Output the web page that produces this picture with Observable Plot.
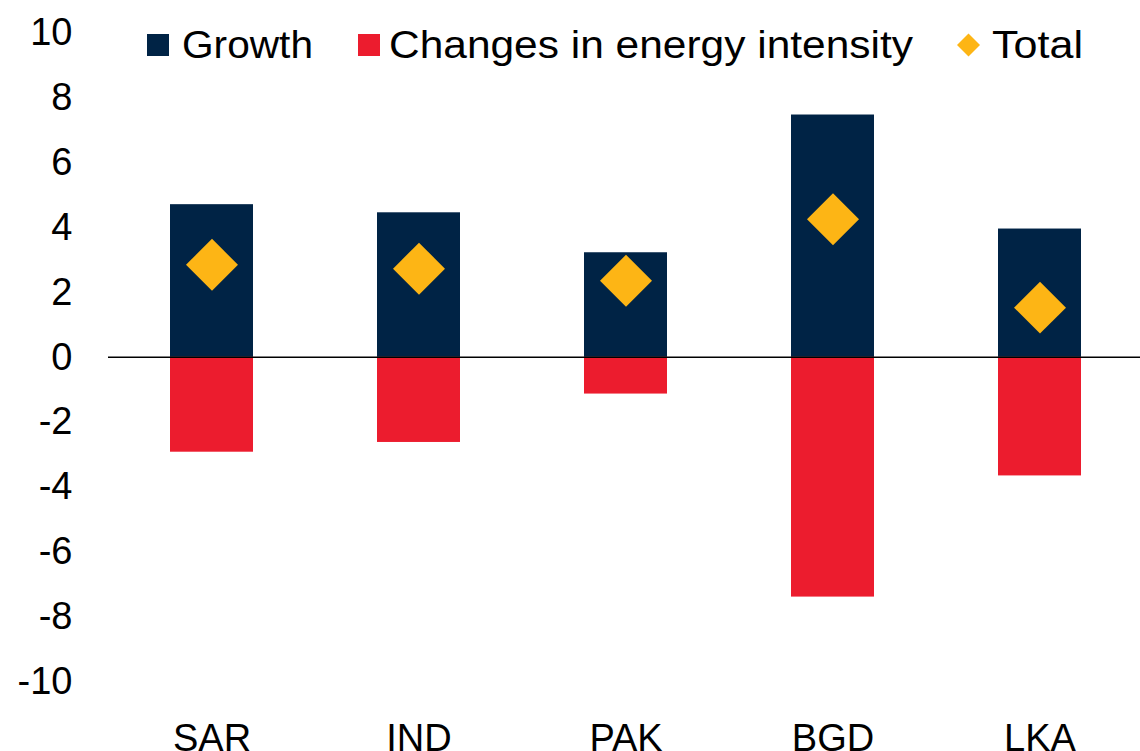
<!DOCTYPE html>
<html>
<head>
<meta charset="utf-8">
<script src="https://cdn.jsdelivr.net/npm/d3@7"></script>
<script src="https://cdn.jsdelivr.net/npm/@observablehq/plot@0.6"></script>
<style>
  html, body { margin: 0; padding: 0; background: #fff; }
  #wrap { position: relative; width: 1140px; height: 751px; overflow: hidden; }
  #legend { position: absolute; left: 0; top: 0; pointer-events: none; }
</style>
</head>
<body>
<div id="wrap"></div>
<script>
// ---- data ----
const countries = ["SAR", "IND", "PAK", "BGD", "LKA"];
const growth = [4.70, 4.45, 3.22, 7.46, 3.95];
const intensity = [-2.92, -2.62, -1.13, -7.38, -3.65];
const total = [2.85, 2.73, 2.36, 4.25, 1.53];
const yTicks = [10, 8, 6, 4, 2, 0, -2, -4, -6, -8, -10];
const seriesNames = ["Growth", "Changes in energy intensity", "Total"];
const seriesColors = ["#002345", "#EC1C2E", "#FDB515"];

const data = countries.map((c, i) => ({c, growth: growth[i], intensity: intensity[i], total: total[i]}));

const font = "'Liberation Sans', Arial, Helvetica, sans-serif";

const chart = Plot.plot({
  width: 1140,
  height: 751,
  marginLeft: 108,
  marginRight: 0,
  marginTop: 32,
  marginBottom: 69.3,
  style: {fontFamily: font, fontSize: "38px", color: "#000", background: "#fff", overflow: "visible"},
  x: {domain: countries, range: [107.4, 1143.6], paddingInner: 0.6, paddingOuter: 0.3, axis: null},
  y: {domain: [-10, 10], axis: null},
  marks: [
    Plot.barY(data, {x: "c", y1: 0, y2: "growth", fill: seriesColors[0]}),
    Plot.barY(data, {x: "c", y1: 0, y2: "intensity", fill: seriesColors[1]}),
    Plot.ruleY([0], {stroke: "#000", strokeWidth: 1.5}),
    Plot.dot(data, {x: "c", y: "total", symbol: "diamond2", r: 23.4, fill: seriesColors[2], stroke: "none"}),
    Plot.axisY({ticks: yTicks, tickSize: 0, tickPadding: 36, label: null, tickFormat: d => String(d), fontSize: 38}),
    Plot.axisX({tickSize: 0, tickPadding: 42, label: null, fontSize: 38})
  ]
});
document.getElementById("wrap").appendChild(chart);

// ---- legend (overlay at the top of the plot area) ----
const legendItems = [
  {name: seriesNames[0], color: seriesColors[0], shape: "square", sx: 147, tx: 182, tl: 131},
  {name: seriesNames[1], color: seriesColors[1], shape: "square", sx: 358, tx: 389, tl: 524},
  {name: seriesNames[2], color: seriesColors[2], shape: "diamond", sx: 957, tx: 992, tl: 91}
];
const lg = d3.select("#wrap").append("svg")
  .attr("id", "legend")
  .attr("width", 1140)
  .attr("height", 80);
const g = lg.selectAll("g").data(legendItems).join("g");
g.filter(d => d.shape === "square").append("rect")
  .attr("x", d => d.sx).attr("y", 34).attr("width", 22).attr("height", 22)
  .attr("fill", d => d.color);
g.filter(d => d.shape === "diamond").append("path")
  .attr("d", d => `M${d.sx + 11.5},33.5 L${d.sx + 23},45 L${d.sx + 11.5},56.5 L${d.sx},45 Z`)
  .attr("fill", d => d.color);
g.append("text")
  .attr("x", d => d.tx).attr("y", 58)
  .attr("font-family", font).attr("font-size", 38)
  .attr("textLength", d => d.tl).attr("lengthAdjust", "spacingAndGlyphs")
  .attr("fill", "#000")
  .text(d => d.name);
</script>
</body>
</html>
